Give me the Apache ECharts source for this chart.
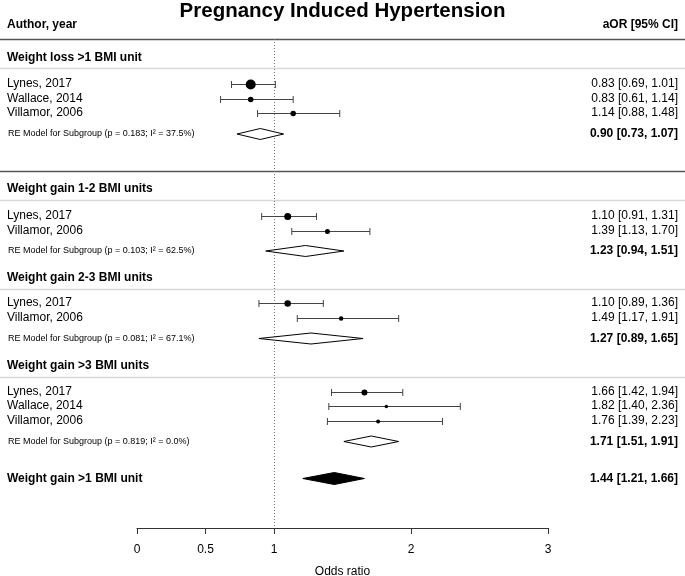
<!DOCTYPE html>
<html><head><meta charset="utf-8">
<script src="https://cdn.jsdelivr.net/npm/echarts@6/dist/echarts.min.js"></script>
<style>html,body{margin:0;padding:0;background:#fff}#c{width:685px;height:576px}</style>
</head><body><div id="c"></div>
<script>
// ---------- data ----------
const chartTitle = 'Pregnancy Induced Hypertension';
const leftHeader = 'Author, year';
const rightHeader = 'aOR [95% CI]';
const xAxisName = 'Odds ratio';
const xTicks = [0, 0.5, 1, 2, 3];
const groupNames = ['Weight loss >1 BMI unit', 'Weight gain 1-2 BMI units', 'Weight gain 2-3 BMI units', 'Weight gain >3 BMI units'];
const studyNames = ['Lynes, 2017', 'Wallace, 2014', 'Villamor, 2006', 'Lynes, 2017', 'Villamor, 2006', 'Lynes, 2017', 'Villamor, 2006', 'Lynes, 2017', 'Wallace, 2014', 'Villamor, 2006'];
const studyOR = [0.83, 0.83, 1.14, 1.10, 1.39, 1.10, 1.49, 1.66, 1.82, 1.76];
const studyLo = [0.69, 0.61, 0.88, 0.91, 1.13, 0.89, 1.17, 1.42, 1.40, 1.39];
const studyHi = [1.01, 1.14, 1.48, 1.31, 1.70, 1.36, 1.91, 1.94, 2.36, 2.23];
const reP = ['0.183', '0.103', '0.081', '0.819'];
const reI2 = ['37.5', '62.5', '67.1', '0.0'];
const reOR = [0.90, 1.23, 1.27, 1.71];
const reLo = [0.73, 0.94, 0.89, 1.51];
const reHi = [1.07, 1.51, 1.65, 1.91];
const overallName = 'Weight gain >1 BMI unit';
const overallOR = [1.44];
const overallLo = [1.21];
const overallHi = [1.66];

// ---------- layout (row positions / sizes / styles) ----------
const studyRowY = [83.5, 98.5, 113, 215.5, 230.5, 302.5, 317.5, 391.5, 406, 420.5];
const studyPointSize = [10, 5.5, 5.5, 7, 5, 6.5, 4.5, 6, 3.5, 4];
const headingRowY = [58, 189, 277.5, 365.5];
const reRowY = [134, 251, 338.5, 441.5];
const overallRowY = [478.5];
const headerRowY = 24.5;
const darkLineY = [39, 171];
const lightLineY = [68, 200, 288.5, 377];
const refLineSpan = [39, 528];
const FONT = '"Liberation Sans", Arial, sans-serif';
const LEFT_X = 7, RIGHT_X = 678;

const fmt = (o, l, h) => `${o.toFixed(2)} [${l.toFixed(2)}, ${h.toFixed(2)}]`;

// text items built from the data arrays
const texts = [];
groupNames.forEach((g, i) => texts.push({ y: headingRowY[i], t: g, x: LEFT_X, a: 'left', f: `bold 12px ${FONT}` }));
studyNames.forEach((s, i) => {
  texts.push({ y: studyRowY[i], t: s, x: LEFT_X, a: 'left', f: `12px ${FONT}` });
  texts.push({ y: studyRowY[i], t: fmt(studyOR[i], studyLo[i], studyHi[i]), x: RIGHT_X, a: 'right', f: `12px ${FONT}` });
});
reOR.forEach((v, i) => {
  texts.push({ y: reRowY[i], t: `RE Model for Subgroup (p = ${reP[i]}; I\u00B2 = ${reI2[i]}%)`, x: LEFT_X + 1, a: 'left', f: `9px ${FONT}` });
  texts.push({ y: reRowY[i], t: fmt(v, reLo[i], reHi[i]), x: RIGHT_X, a: 'right', f: `bold 12px ${FONT}` });
});
texts.push({ y: overallRowY[0], t: overallName, x: LEFT_X, a: 'left', f: `bold 12px ${FONT}` });
texts.push({ y: overallRowY[0], t: fmt(overallOR[0], overallLo[0], overallHi[0]), x: RIGHT_X, a: 'right', f: `bold 12px ${FONT}` });
texts.push({ y: headerRowY, t: leftHeader, x: LEFT_X, a: 'left', f: `bold 12px ${FONT}` });
texts.push({ y: headerRowY, t: rightHeader, x: RIGHT_X, a: 'right', f: `bold 12px ${FONT}` });

const chart = echarts.init(document.getElementById('c'), null, { renderer: 'canvas' });

const hlines = darkLineY.map(y => [1, y, 0]).concat(lightLineY.map(y => [1, y, 1]));

const option = {
  animation: false,
  backgroundColor: '#fff',
  title: {
    text: chartTitle, left: 'center', top: -4,
    textStyle: { fontFamily: FONT, fontWeight: 'bold', fontSize: 20.5, color: '#000' }
  },
  grid: { left: 137, right: 137, top: 0, height: 528, containLabel: false, outerBoundsMode: 'none' },
  xAxis: {
    type: 'value', min: 0, max: 3, position: 'bottom',
    name: xAxisName, nameLocation: 'middle', nameGap: 38,
    nameTextStyle: { fontFamily: FONT, fontSize: 12, color: '#000' },
    axisLine: { show: true, onZero: false, lineStyle: { color: '#333', width: 1 } },
    axisTick: { show: true, length: 6, customValues: xTicks, lineStyle: { color: '#333' } },
    axisLabel: { customValues: xTicks, margin: 16, fontFamily: FONT, fontSize: 12, color: '#000',
      formatter: v => String(v) },
    splitLine: { show: false }
  },
  yAxis: { type: 'value', min: 0, max: 528, inverse: true, show: false },
  series: [
    { // separator lines
      type: 'custom', silent: true, data: hlines, encode: { x: 0, y: 1 },
      renderItem: (params, api) => {
        const y = Math.round(api.coord([1, api.value(1)])[1]) + 0.5;
        const dark = api.value(2) === 0;
        return { type: 'line', shape: { x1: 0, y1: y, x2: api.getWidth(), y2: y },
          style: { stroke: dark ? '#555' : '#d9d9d9', lineWidth: 1.5 } };
      }
    },
    { // reference line at OR = 1
      type: 'custom', silent: true, data: [[1, refLineSpan[0], refLineSpan[1]]], encode: { x: 0, y: [1, 2] },
      renderItem: (params, api) => {
        const a = api.coord([api.value(0), api.value(1)]);
        const b = api.coord([api.value(0), api.value(2)]);
        const x = Math.round(a[0]) + 0.5;
        return { type: 'line', shape: { x1: x, y1: a[1], x2: x, y2: b[1] },
          style: { stroke: '#777', lineWidth: 1, lineDash: [1, 2] } };
      }
    },
    { // CI whiskers
      type: 'custom', silent: true,
      data: studyOR.map((v, i) => [studyLo[i], studyHi[i], studyRowY[i]]),
      encode: { x: [0, 1], y: 2 },
      renderItem: (params, api) => {
        const p1 = api.coord([api.value(0), api.value(2)]);
        const p2 = api.coord([api.value(1), api.value(2)]);
        const y = Math.round(p1[1]) + 0.5, c = 3.5;
        const st = { stroke: '#444', lineWidth: 1 };
        return { type: 'group', children: [
          { type: 'line', shape: { x1: p1[0], y1: y, x2: p2[0], y2: y }, style: st },
          { type: 'line', shape: { x1: p1[0], y1: y - c, x2: p1[0], y2: y + c }, style: st },
          { type: 'line', shape: { x1: p2[0], y1: y - c, x2: p2[0], y2: y + c }, style: st }
        ] };
      }
    },
    { // study point estimates
      type: 'scatter', silent: true,
      data: studyOR.map((v, i) => [v, Math.round(studyRowY[i]) + 0.5]),
      symbol: 'circle',
      symbolSize: (val, p) => studyPointSize[p.dataIndex],
      itemStyle: { color: '#000', opacity: 1 }
    },
    { // subgroup RE diamonds
      type: 'custom', silent: true,
      data: reOR.map((v, i) => [v, reLo[i], reHi[i], reRowY[i]]),
      encode: { x: [0, 1, 2], y: 3 },
      renderItem: (params, api) => {
        const y = api.value(3), h = 5.5;
        const c = api.coord([api.value(0), y]);
        const l = api.coord([api.value(1), y]);
        const r = api.coord([api.value(2), y]);
        return { type: 'polygon', shape: { points: [[l[0], c[1]], [c[0], c[1] - h], [r[0], c[1]], [c[0], c[1] + h]] },
          style: { fill: '#fff', stroke: '#000', lineWidth: 1 } };
      }
    },
    { // overall diamond
      type: 'custom', silent: true,
      data: overallOR.map((v, i) => [v, overallLo[i], overallHi[i], overallRowY[i]]),
      encode: { x: [0, 1, 2], y: 3 },
      renderItem: (params, api) => {
        const y = api.value(3), h = 6;
        const c = api.coord([api.value(0), y]);
        const l = api.coord([api.value(1), y]);
        const r = api.coord([api.value(2), y]);
        return { type: 'polygon', shape: { points: [[l[0], c[1]], [c[0], c[1] - h], [r[0], c[1]], [c[0], c[1] + h]] },
          style: { fill: '#000', stroke: '#000', lineWidth: 1 } };
      }
    },
    { // all text rows
      type: 'custom', silent: true,
      data: texts.map((t, i) => [1, t.y, i]),
      encode: { x: 0, y: 1 },
      renderItem: (params, api) => {
        const t = texts[api.value(2)];
        const y = api.coord([1, api.value(1)])[1];
        return { type: 'text', x: t.x, y: y,
          style: { text: t.t, font: t.f, fill: '#000', textAlign: t.a, textVerticalAlign: 'middle' } };
      }
    }
  ]
};
chart.setOption(option);
</script>
</body></html>
